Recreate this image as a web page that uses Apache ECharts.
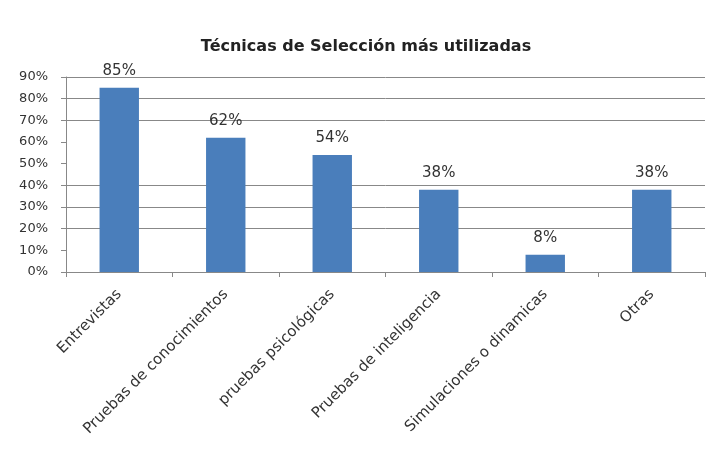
<!DOCTYPE html>
<html><head><meta charset="utf-8">
<script src="https://cdn.jsdelivr.net/npm/echarts@6/dist/echarts.min.js"></script>
<style>html,body{margin:0;padding:0;background:#fff}#c{width:711px;height:456px}</style>
</head><body><div id="c"></div>
<script>
var titleText = 'Técnicas de Selección más utilizadas';
var categories = ['Entrevistas','Pruebas de conocimientos','pruebas psicológicas','Pruebas de inteligencia','Simulaciones o dinamicas','Otras'];
var values = [85, 62, 54, 38, 8, 38];
var gridValues = [20, 30, 40, 70, 80, 90];

var FONT = 'DejaVu Sans';
var chart = echarts.init(document.getElementById('c'));
chart.setOption({
  backgroundColor: '#fff',
  animation: false,
  title: {text: titleText, left: 361, top: 34, textAlign: 'center',
    textStyle: {fontFamily: FONT, fontSize: 16, fontWeight: 'bold', color: '#222'}},
  grid: {left: 66, right: 6, top: 77, bottom: 184},
  xAxis: {type: 'category', data: categories,
    axisLine: {lineStyle: {color: '#888'}},
    axisTick: {show: true, alignWithLabel: false, length: 5, lineStyle: {color: '#888'}},
    axisLabel: {rotate: 45, interval: 0, fontFamily: FONT, fontSize: 15, color: '#333', margin: 20}},
  yAxis: {type: 'value', min: 0, max: 90, interval: 10,
    axisLine: {show: true, lineStyle: {color: '#888'}},
    axisTick: {show: true, length: 5, lineStyle: {color: '#888'}},
    axisLabel: {formatter: '{value}%', fontFamily: FONT, fontSize: 13, color: '#333', margin: 18},
    splitLine: {show: false}},
  series: [
    {type: 'line', data: [], zlevel: 0, z: 1, silent: true,
      markLine: {silent: true, symbol: ['none','none'], animation: false,
        label: {show: false},
        lineStyle: {color: '#888', type: 'solid', width: 1},
        data: gridValues.map(function(v){ return {yAxis: v}; })}},
    {type: 'bar', data: values, barWidth: '37%', zlevel: 1, z: 10,
      itemStyle: {color: '#4a7ebb'},
      label: {show: true, position: 'top', formatter: '{c}%', fontFamily: FONT, fontSize: 15, color: '#333', distance: 9}}
  ]
});
</script></body></html>
